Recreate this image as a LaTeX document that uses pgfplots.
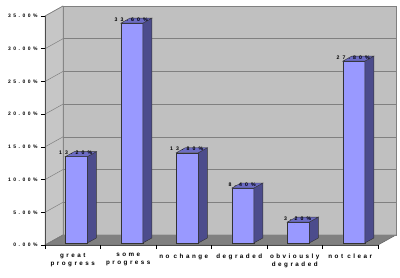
\documentclass[border=0pt]{standalone}
\usepackage{pgfplots}
\pgfplotsset{compat=1.18}
\usepackage{pgfplotstable}
\usepackage{fontspec}
\setmainfont{Liberation Sans}
\newfontfamily\spfont[LetterSpace=50]{Liberation Sans}
\newfontfamily\valfontfam[LetterSpace=60]{Liberation Sans}
\newfontfamily\catfontfam[LetterSpace=40]{Liberation Sans}
\newcommand\tickfont{\spfont\bfseries\fontsize{5}{6}\selectfont}
\newcommand\valfont{\valfontfam\bfseries\fontsize{5.2}{6}\selectfont}
\newcommand\catfont{\catfontfam\bfseries\fontsize{6.3}{8}\selectfont}
\definecolor{frontc}{HTML}{9999FF}
\definecolor{sidec}{HTML}{4C4C8C}
\definecolor{topc}{HTML}{6C6CC4}
\definecolor{wallc}{HTML}{C0C0C0}
\definecolor{lwallc}{HTML}{C6C6C6}
\definecolor{floorc}{HTML}{808080}
\pgfplotstableread{
x y
0 13.2
1 33.6
2 13.8
3 8.4
4 3.2
5 27.8
}\datatable
\begin{document}
\begin{tikzpicture}
\useasboundingbox (-45bp,-33bp) rectangle (355bp,245bp);
% walls and floor
\fill[wallc, draw=floorc, line width=0.5pt] (18bp,10bp) rectangle (351bp,239bp);
\fill[lwallc, draw=floorc, line width=0.5pt] (0bp,0bp) -- (18bp,10bp) -- (18bp,239bp) -- (0bp,229bp) -- cycle;
\fill[floorc, draw=floorc!80!black, line width=0.5pt] (0bp,0bp) -- (333bp,0bp) -- (351bp,10bp) -- (18bp,10bp) -- cycle;
\foreach \v in {0,5,...,35}{
  \pgfmathsetmacro\yy{\v*229/35}
  \draw[black!50, line width=0.5pt] (0bp,\yy bp) -- ++(18bp,10bp);
}
\begin{axis}[
  at={(0,0)}, anchor=south west,
  scale only axis, width=333bp, height=229bp,
  xmin=-0.5, xmax=5.5, ymin=0, ymax=35,
  axis x line*=bottom, axis y line*=left,
  axis line style={draw=black!70, line width=0.5pt},
  clip=false,
  /pgf/number format/assume math mode=true,
  ytick={0,5,...,35},
  yticklabel={\tickfont\pgfmathprintnumber[fixed,fixed zerofill,precision=2]{\tick}\%},
  tick align=outside, major tick length=4bp,
  tick style={draw=black, line width=0.5pt},
  ymajorgrids,
  major grid style={draw=black!50, line width=0.7pt, xshift=18bp, yshift=10bp},
  xtick={0,...,5},
  xticklabels={great\\progress, some\\progress, no change, degraded, obviously\\degraded, not clear},
  xticklabel style={align=center, font=\catfont, yshift=-1bp},
  xtick style={draw=none},
  extra x ticks={-0.5,0.5,1.5,2.5,3.5,4.5,5.5},
  extra x tick labels={},
  extra x tick style={grid=none, xtick style={draw=black, line width=0.5pt}},
]
% side and top faces
\addplot[only marks, mark=*, mark size=0pt, scatter,
  visualization depends on={\thisrow{y}*229/35\as\barh},
  scatter/@pre marker code/.code={%
    \filldraw[fill=sidec, draw=black!80, line width=0.4pt] (14.6bp,2bp) -- ++(9bp,5bp) -- ++(0bp,-\barh bp) -- ++(-9bp,-5bp) -- cycle;
    \filldraw[fill=topc, draw=black!80, line width=0.4pt] (-7.4bp,2bp) -- (14.6bp,2bp) -- ++(9bp,5bp) -- ++(-22bp,0bp) -- cycle;
  },
  scatter/@post marker code/.code={}
] table[x=x,y=y]{\datatable};
% front faces
\addplot[ybar, bar width=22bp, bar shift=3.6bp, fill=frontc, draw=black!80, line width=0.4pt, yshift=2bp,
  nodes near coords={\valfont\pgfmathprintnumber[fixed,fixed zerofill,precision=2]{\pgfplotspointmeta}\%},
  every node near coord/.append style={anchor=south, yshift=0.5bp, xshift=3bp, inner sep=1bp}
] table[x=x,y=y]{\datatable};
\end{axis}
\end{tikzpicture}
\end{document}
